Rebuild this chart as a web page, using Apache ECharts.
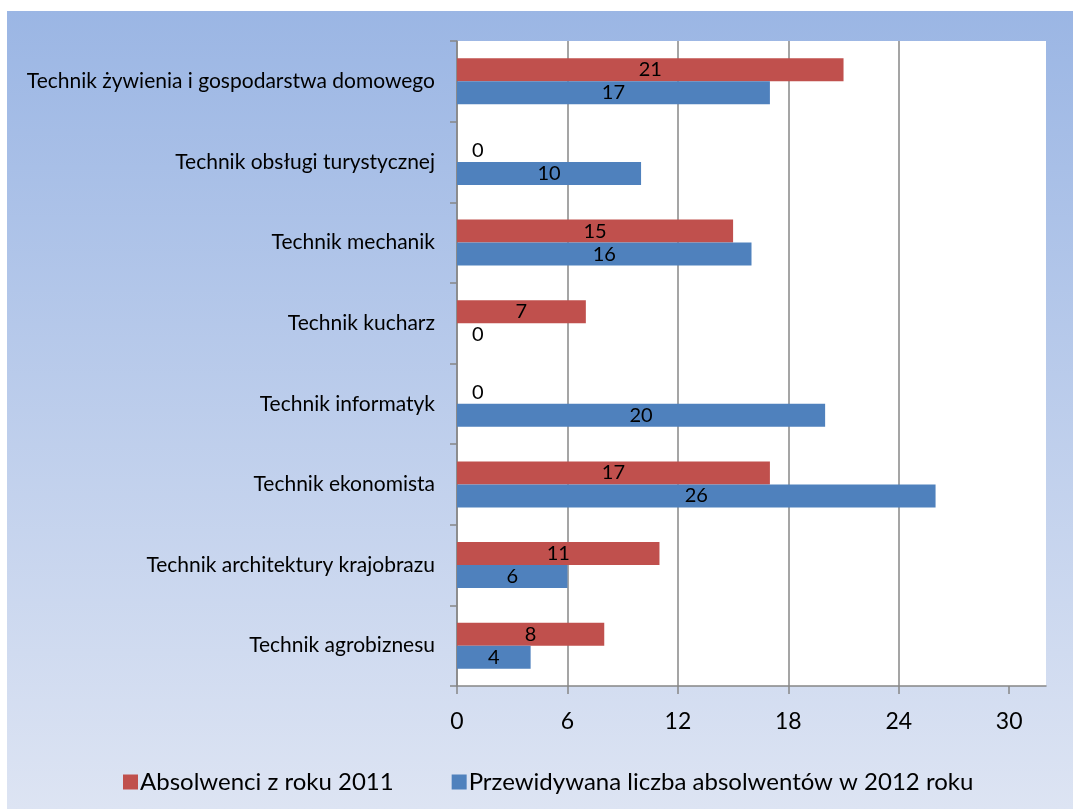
<!DOCTYPE html>
<html>
<head>
<meta charset="utf-8">
<script src="https://cdn.jsdelivr.net/npm/echarts@6/dist/echarts.min.js"></script>
<style>
  html, body { margin: 0; padding: 0; background: #fff; }
  #chart { width: 1073px; height: 809px; }
</style>
</head>
<body>
<div id="chart"></div>
<script>
// categories top to bottom
const categories = [
  'Technik żywienia i gospodarstwa domowego',
  'Technik obsługi turystycznej',
  'Technik mechanik',
  'Technik kucharz',
  'Technik informatyk',
  'Technik ekonomista',
  'Technik architektury krajobrazu',
  'Technik agrobiznesu'
]
const graduates2011 = [21, 0, 15, 7, 0, 17, 11, 8]
const forecast2012 = [17, 10, 16, 0, 20, 26, 6, 4]
const xTicks = [0, 6, 12, 18, 24, 30]
const seriesNames = ['Absolwenci z roku 2011', 'Przewidywana liczba absolwentów w 2012 roku']

const FONT = 'Lato'

// zero values get their label pushed right of the axis, like in Excel
function withLabels (values) {
  return values.map((v) => {
    if (v !== 0) return v
    return { value: v, label: { position: 'right', distance: 15 } }
  })
}

const chart = echarts.init(document.getElementById('chart'))

const barLabel = {
  show: true,
  position: 'inside',
  color: '#000',
  fontFamily: FONT,
  fontSize: 20
}

const option = {
  backgroundColor: '#fff',
  animation: false,
  graphic: [
    {
      type: 'rect',
      z: -10,
      shape: { x: 7, y: 11, width: 1066, height: 798 },
      style: {
        fill: new echarts.graphic.LinearGradient(0, 0, 0, 1, [
          { offset: 0, color: '#9bb6e4' },
          { offset: 1, color: '#dde4f3' }
        ])
      }
    }
  ],
  grid: {
    left: 457,
    top: 41,
    right: 27,
    bottom: 123,
    show: true,
    backgroundColor: '#fff',
    borderWidth: 0
  },
  legend: {
    left: 118,
    top: 765,
    itemWidth: 15,
    itemHeight: 15,
    itemGap: 58,
    icon: 'rect',
    textStyle: { fontFamily: FONT, fontSize: 24, color: '#000', padding: [0, 0, 0, -3] },
    data: seriesNames
  },
  xAxis: {
    type: 'value',
    min: 0,
    max: 32,
    axisLine: { show: true, lineStyle: { color: '#878787', width: 1.5 } },
    axisTick: { show: true, length: 8, customValues: xTicks, lineStyle: { color: '#878787', width: 1.5 } },
    axisLabel: { customValues: xTicks, margin: 24, color: '#000', fontFamily: FONT, fontSize: 23 },
    splitLine: { show: true, showMaxLine: false, lineStyle: { color: '#878787', width: 1.5 } }
  },
  yAxis: {
    type: 'category',
    inverse: true,
    data: categories,
    axisLine: { show: true, lineStyle: { color: '#878787', width: 1.5 } },
    axisTick: { show: true, length: 7, lineStyle: { color: '#878787', width: 1.5 } },
    axisLabel: { margin: 22, color: '#000', fontFamily: FONT, fontSize: 21 }
  },
  series: [
    {
      name: seriesNames[0],
      type: 'bar',
      data: withLabels(graduates2011),
      barWidth: 23,
      barGap: '0%',
      itemStyle: { color: '#c0504d' },
      label: barLabel
    },
    {
      name: seriesNames[1],
      type: 'bar',
      data: withLabels(forecast2012),
      barWidth: 23,
      barGap: '0%',
      itemStyle: { color: '#4f81bd' },
      label: barLabel
    }
  ]
}

chart.setOption(option)
</script>
</body>
</html>
